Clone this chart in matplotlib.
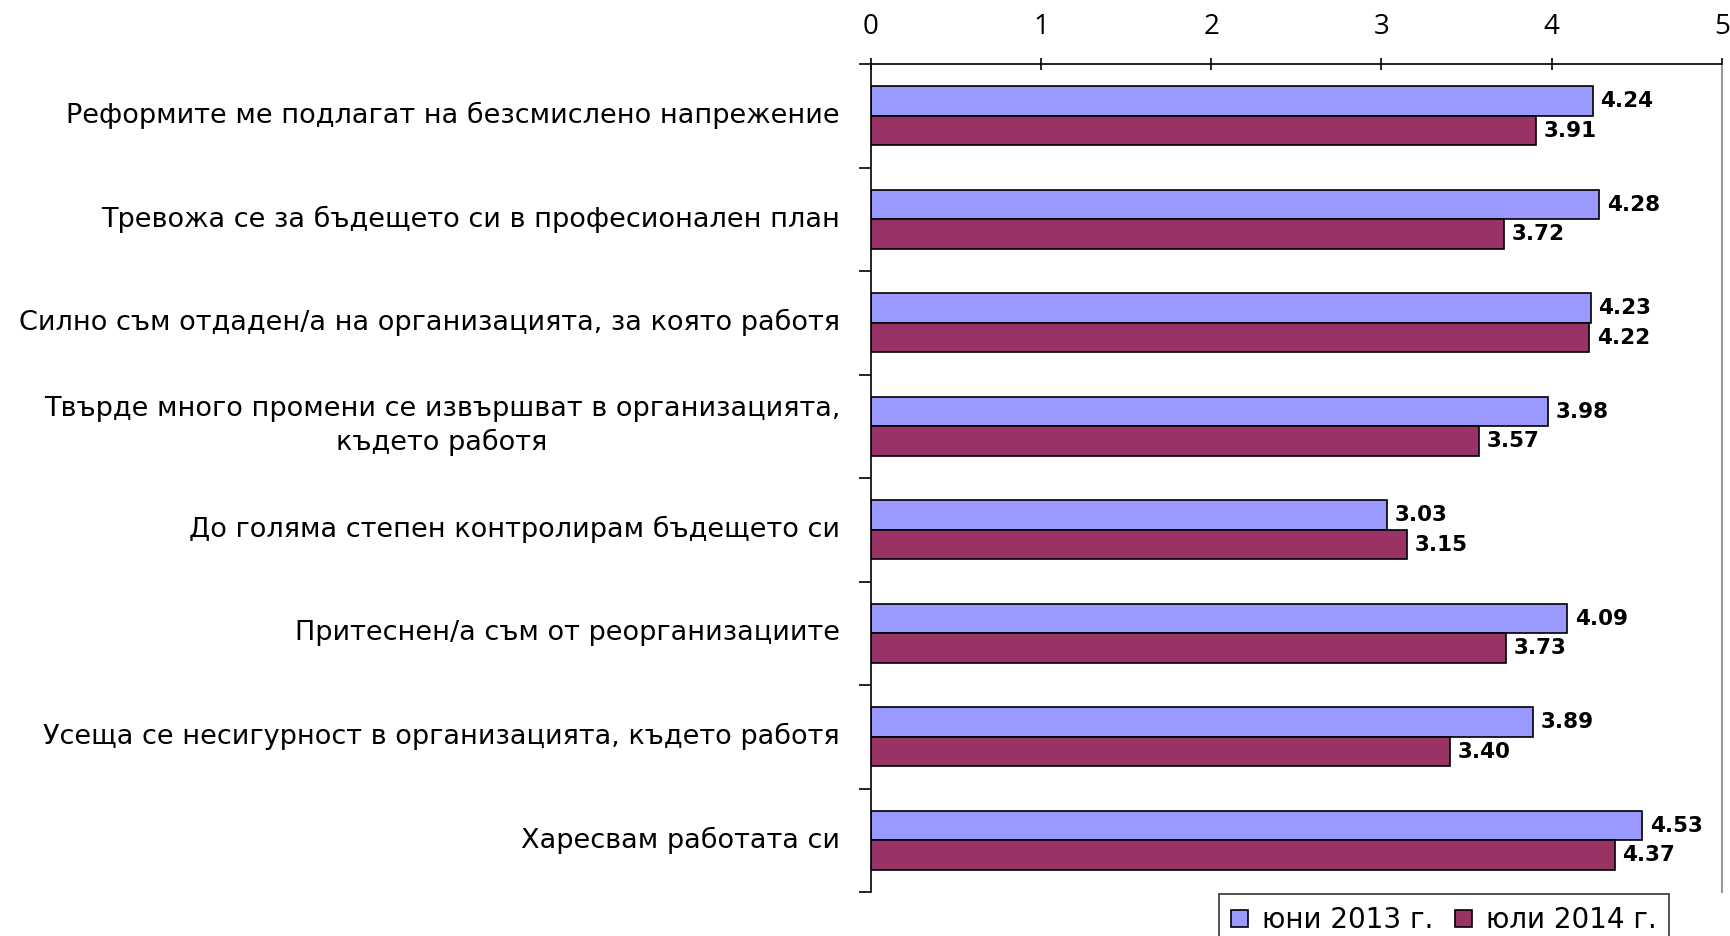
import matplotlib.pyplot as plt
import numpy as np

# Данные из диаграммы
categories = [
    "Реформите ме подлагат на безсмислено напрежение",
    "Тревожа се за бъдещето си в професионален план",
    "Силно съм отдаден/а на организацията, за която работя",
    "Твърде много промени се извършват в организацията,\nкъдето работя",
    "До голяма степен контролирам бъдещето си",
    "Притеснен/а съм от реорганизациите",
    "Усеща се несигурност в организацията, където работя",
    "Харесвам работата си",
]
june_2013 = [4.24, 4.28, 4.23, 3.98, 3.03, 4.09, 3.89, 4.53]
july_2014 = [3.91, 3.72, 4.22, 3.57, 3.15, 3.73, 3.40, 4.37]
series_names = ["юни 2013 г.", "юли 2014 г."]
ticks = [0, 1, 2, 3, 4, 5]

fig = plt.figure(figsize=(17.31, 9.36), dpi=100)
ax = fig.add_axes([0.503, 0.047, 0.4918, 0.8846])

y = np.arange(len(categories))
h = 0.285
b1 = ax.barh(y - h / 2, june_2013, height=h, color="#9999FF", edgecolor="black", linewidth=1.2,
             label=series_names[0])
b2 = ax.barh(y + h / 2, july_2014, height=h, color="#993366", edgecolor="black", linewidth=1.2,
             label=series_names[1])

for bars, vals in ((b1, june_2013), (b2, july_2014)):
    for bar, v in zip(bars, vals):
        ax.text(v + 0.045, bar.get_y() + bar.get_height() / 2, f"{v:.2f}",
                va="center", ha="left", fontsize=15.5, fontweight="bold", family="DejaVu Sans")

ax.set_xlim(0, 5)
ax.set_ylim(len(categories) - 0.5, -0.5)
ax.xaxis.tick_top()
ax.set_xticks(ticks)
ax.set_xticklabels([str(t) for t in ticks], fontsize=20, family="Open Sans")
ax.tick_params(axis="x", direction="inout", length=9, width=1.2, pad=12)

# подписи категорий как текст, ось Y с делениями между категориями
ax.set_yticks(np.arange(len(categories) + 1) - 0.5)
ax.set_yticklabels([])
ax.tick_params(axis="y", direction="out", length=9, width=1.2)
for i, cat in enumerate(categories):
    ax.text(-0.18, i, cat, ha="right", va="center", fontsize=19.5, family="DejaVu Sans",
            multialignment="center", linespacing=1.3)

ax.spines["bottom"].set_visible(False)
ax.spines["left"].set_linewidth(1.2)
ax.spines["top"].set_linewidth(1.2)
ax.spines["right"].set_color("#999999")
ax.spines["right"].set_linewidth(1.5)

leg = fig.legend(loc="upper left", bbox_to_anchor=(0.704, 0.045), ncol=2, fontsize=20,
                 frameon=True, fancybox=False, edgecolor="black", handlelength=0.6,
                 handleheight=0.6, handletextpad=0.5, columnspacing=0.8, borderpad=0.45,
                 borderaxespad=0)
leg.get_frame().set_linewidth(1.2)

fig.savefig("out.png", dpi=100)
